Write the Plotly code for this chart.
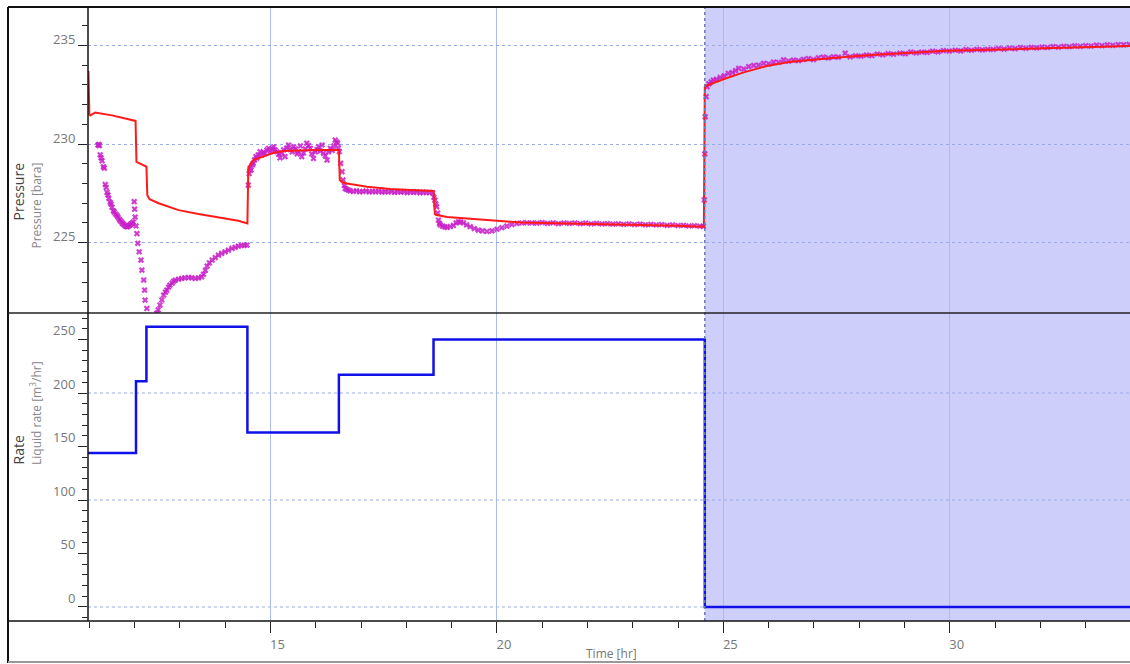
import plotly.graph_objects as go

# ---- measured bottom-hole pressure (bara) vs time (hr) ----
meas_t = [
    11.19, 11.21, 11.22, 11.24, 11.26, 11.28, 11.31, 11.33, 11.35, 11.37, 11.39, 11.41, 11.43,
    11.46, 11.48, 11.50, 11.53, 11.55, 11.58, 11.61, 11.63, 11.66, 11.68, 11.71, 11.73, 11.75,
    11.78, 11.80, 11.83, 11.85, 11.88, 11.90, 11.92, 11.94, 11.97, 11.99, 12.00, 12.01, 12.03,
    12.05, 12.07, 12.10, 12.14, 12.16, 12.20, 12.22, 12.23, 12.27, 12.30, 12.34, 12.40, 12.45,
    12.49, 12.52, 12.56, 12.60, 12.64, 12.68, 12.71, 12.75, 12.78, 12.83, 12.86, 12.90, 12.97,
    13.04, 13.11, 13.19, 13.26, 13.34, 13.41, 13.48, 13.52, 13.56, 13.60, 13.65, 13.71, 13.78,
    13.85, 13.92, 14.00, 14.07, 14.15, 14.22, 14.29, 14.36, 14.42, 14.48,
    14.51, 14.53, 14.55, 14.57, 14.60, 14.62, 14.65, 14.68, 14.70, 14.73, 14.77, 14.80, 14.84,
    14.88, 14.92, 14.96, 15.00, 15.04, 15.07, 15.10, 15.14, 15.18, 15.21, 15.25, 15.29, 15.32,
    15.36, 15.40, 15.44, 15.48, 15.51, 15.55, 15.59, 15.62, 15.66, 15.69, 15.73, 15.77, 15.80,
    15.84, 15.88, 15.91, 15.95, 15.99, 16.03, 16.06, 16.10, 16.14, 16.17, 16.21, 16.25, 16.28,
    16.32, 16.36, 16.40, 16.43, 16.46, 16.48, 16.50, 16.52, 16.55, 16.58, 16.60, 16.63, 16.65,
    16.68, 16.72,
    16.76, 16.83, 16.90, 16.97, 17.04, 17.11, 17.18, 17.25, 17.32, 17.39, 17.46, 17.53, 17.60,
    17.67, 17.74, 17.81, 17.88, 17.95, 18.02, 18.09, 18.16, 18.23, 18.30, 18.37, 18.44, 18.51,
    18.58, 18.61, 18.63, 18.65, 18.67, 18.69, 18.71, 18.73, 18.75, 18.80, 18.85, 18.90, 18.97,
    19.04, 19.10, 19.15, 19.20, 19.26, 19.33, 19.41, 19.50, 19.59, 19.68, 19.78, 19.89, 20.00,
    20.11, 20.22, 20.33, 20.44, 20.55, 20.66, 20.77, 20.88, 21.00, 21.12, 21.24, 21.36, 21.48,
    21.60, 21.72, 21.84, 21.96, 22.08, 22.20, 22.32, 22.44, 22.56, 22.68, 22.80, 22.92, 23.04,
    23.16, 23.28, 23.40, 23.52, 23.64, 23.76, 23.88, 24.00, 24.12, 24.24, 24.36, 24.48, 24.56,
    24.58, 24.59, 24.60, 24.62, 24.64, 24.68, 24.73, 24.78, 24.85, 24.93, 25.02, 25.11, 25.20,
    25.27, 25.34, 25.45, 25.56, 25.67, 25.78, 25.89, 26.00, 26.11, 26.22, 26.33, 26.44, 26.55,
    26.66, 26.77, 26.88, 26.99, 27.10, 27.21, 27.32, 27.43, 27.54, 27.69, 27.80, 27.92, 28.04,
    28.16, 28.28, 28.40, 28.52, 28.64, 28.76, 28.90, 29.02, 29.14, 29.26, 29.38, 29.50, 29.62,
    29.74, 29.86, 29.99, 30.12, 30.24, 30.36, 30.48, 30.60, 30.72, 30.84, 30.96, 31.08, 31.20,
    31.32, 31.44, 31.56, 31.68, 31.80, 31.92, 32.04, 32.16, 32.28, 32.40, 32.52, 32.64, 32.76,
    32.88, 33.00, 33.12, 33.24, 33.36, 33.48, 33.60, 33.72, 33.84, 33.96,
]
meas_p = [
    229.95, 229.98, 229.92, 229.45, 229.30, 229.15, 228.85, 228.78, 227.95, 227.80, 227.55, 227.42, 227.25,
    227.05, 226.95, 226.80, 226.62, 226.55, 226.45, 226.38, 226.30, 226.20, 226.12, 226.05, 225.98, 225.94,
    225.88, 225.84, 225.80, 225.83, 225.86, 225.90, 225.95, 225.98, 226.05, 227.08, 226.70, 226.30, 225.85,
    225.46, 224.97, 224.54, 224.12, 223.61, 223.11, 222.60, 222.09, 221.67, 221.20, 220.90, 220.75, 221.00,
    221.43, 221.60, 221.84, 222.10, 222.35, 222.50, 222.60, 222.75, 222.85, 222.95, 223.05, 223.10, 223.15,
    223.19, 223.22, 223.24, 223.22, 223.19, 223.22, 223.27, 223.40, 223.60, 223.82, 223.98, 224.12, 224.25,
    224.37, 224.46, 224.54, 224.62, 224.71, 224.77, 224.83, 224.86, 224.87, 224.88,
    227.92, 228.50, 228.77, 228.68, 228.94, 229.02, 229.20, 229.36, 229.28, 229.45, 229.61, 229.44, 229.58,
    229.53, 229.70, 229.78, 229.62, 229.75, 229.86, 229.70, 229.61, 229.48, 229.30, 229.55, 229.70, 229.36,
    229.80, 229.95, 229.72, 229.60, 229.86, 229.75, 229.50, 229.61, 229.90, 229.36, 229.55, 229.75, 230.04,
    229.92, 229.78, 229.50, 229.27, 229.60, 229.72, 229.86, 229.65, 229.95, 229.53, 229.40, 229.19, 229.60,
    229.78, 229.68, 229.90, 230.20, 230.10, 230.04, 229.80, 229.61, 229.02, 228.60, 228.18, 227.90, 227.75,
    227.70, 227.67,
    227.62, 227.60, 227.63, 227.58, 227.60, 227.62, 227.57, 227.60, 227.58, 227.61, 227.56, 227.59, 227.57,
    227.60, 227.55, 227.58, 227.56, 227.59, 227.54, 227.57, 227.55, 227.57, 227.53, 227.56, 227.54, 227.55,
    227.53, 227.30, 227.16, 226.95, 226.82, 226.50, 226.15, 225.98, 225.90, 225.84, 225.80, 225.78, 225.82,
    225.88, 226.00, 226.06, 226.05, 226.00, 225.90, 225.81, 225.72, 225.64, 225.60, 225.57, 225.60, 225.68,
    225.76, 225.84, 225.92, 225.98, 226.00, 226.01, 226.00, 225.99, 226.02, 225.98, 226.01, 225.97, 226.00,
    225.98, 226.00, 225.97, 225.99, 225.96, 225.98, 225.95, 225.97, 225.94, 225.96, 225.93, 225.95, 225.92,
    225.94, 225.91, 225.93, 225.90, 225.92, 225.88, 225.90, 225.87, 225.88, 225.85, 225.86, 225.84, 225.83,
    227.17, 229.50, 231.38, 232.40, 232.90, 233.05, 233.15, 233.24, 233.28, 233.37, 233.45, 233.58, 233.62,
    233.72, 233.83, 233.80, 233.92, 233.98, 234.00, 234.09, 234.06, 234.15, 234.14, 234.26, 234.20, 234.25,
    234.22, 234.29, 234.33, 234.28, 234.37, 234.40, 234.36, 234.42, 234.40, 234.60, 234.42, 234.47, 234.45,
    234.50, 234.48, 234.56, 234.52, 234.58, 234.55, 234.60, 234.58, 234.66, 234.62, 234.66, 234.64, 234.70,
    234.67, 234.73, 234.71, 234.75, 234.72, 234.78, 234.75, 234.80, 234.77, 234.80, 234.79, 234.84, 234.81,
    234.86, 234.83, 234.88, 234.85, 234.89, 234.87, 234.91, 234.89, 234.94, 234.91, 234.95, 234.93, 234.97,
    234.95, 234.98, 234.96, 235.01, 234.99, 235.02, 235.00, 235.04, 235.02, 235.05,
]

# ---- simulated pressure response (bara) ----
model_t = [
    10.98, 11.00, 11.02, 11.13, 11.50, 11.80, 12.02, 12.04, 12.26, 12.28, 12.33, 12.53, 12.97,
    13.41, 13.85, 14.29, 14.49, 14.51, 14.55, 14.62, 14.84, 15.07, 15.30, 15.60, 16.00, 16.51,
    16.53, 16.60, 16.69, 17.13, 17.64, 18.10, 18.60, 18.63, 18.67, 18.90, 19.04, 19.41, 20.00,
    20.51, 21.20, 21.99, 22.70, 23.46, 24.00, 24.57, 24.59, 24.62, 24.70, 25.00, 25.45, 25.96,
    26.48, 27.07, 27.80, 28.54, 29.28, 29.94, 30.90, 31.85, 32.90, 33.98,
]
model_p = [
    233.70, 231.50, 231.45, 231.60, 231.45, 231.30, 231.17, 229.10, 228.85, 227.40, 227.20, 227.00, 226.65,
    226.45, 226.28, 226.11, 225.98, 228.77, 228.95, 229.19, 229.36, 229.56, 229.64, 229.68, 229.70, 229.70,
    228.18, 228.05, 228.00, 227.84, 227.72, 227.67, 227.62, 226.45, 226.40, 226.30, 226.28, 226.20, 226.11,
    226.03, 226.00, 225.98, 225.94, 225.90, 225.86, 225.81, 232.90, 232.95, 233.02, 233.28, 233.63, 233.95,
    234.17, 234.29, 234.43, 234.55, 234.63, 234.72, 234.78, 234.85, 234.92, 234.97,
]

# ---- liquid rate history (m3/hr), step starts ----
rate_t = [10.97, 12.03, 12.26, 14.49, 16.51, 18.60, 24.59, 33.98]
rate_q = [144, 211, 262, 163, 217, 250, 0, 0]

# axis settings
x_range = [10.97, 33.98]
p_range = [221.44, 236.89]
q_range = [-13.1, 274.8]
q_grid = [0, 100, 200]
shut_in = rate_t[6]

FONT = "Open Sans"
GRID = "#9aabe8"
TICK = "#222222"
LABEL = "#777777"

fig = go.Figure()

fig.add_trace(go.Scatter(
    x=meas_t, y=meas_p, mode="markers", xaxis="x", yaxis="y",
    marker=dict(symbol="x", size=5.5, color="#c81ec8", opacity=0.85, line=dict(width=0)),
    showlegend=False, hoverinfo="skip",
))
fig.add_trace(go.Scatter(
    x=model_t, y=model_p, mode="lines", xaxis="x", yaxis="y",
    line=dict(color="#ff1a1a", width=2),
    showlegend=False, hoverinfo="skip",
))
fig.add_trace(go.Scatter(
    x=rate_t, y=rate_q, mode="lines", xaxis="x", yaxis="y2",
    line=dict(color="#1010e8", width=2.5, shape="hv"),
    showlegend=False, hoverinfo="skip",
))

# plot area in pixels: x 88..1130, y 8..621
W, H = 1042, 613
split = 308 / H


def px_x(X):
    return (X - 88) / W


def px_y(Y):
    return (621 - Y) / H


shapes = [
    # shut-in period shading
    dict(type="rect", xref="x", yref="paper", x0=shut_in, x1=x_range[1], y0=0, y1=1,
         fillcolor="#cecefb", line=dict(width=0), layer="below"),
]
for q in q_grid:
    shapes.append(dict(type="line", xref="paper", yref="y2", x0=0, x1=1, y0=q, y1=q,
                       line=dict(color=GRID, width=1, dash="dot"), layer="below"))
shapes += [
    # shut-in marker line
    dict(type="line", xref="x", yref="paper", x0=shut_in, x1=shut_in, y0=0, y1=1,
         line=dict(color="#6c78b0", width=1.5, dash="dot")),
    # frame
    dict(type="line", xref="paper", yref="paper", x0=px_x(8), x1=1, y0=px_y(7), y1=px_y(7),
         line=dict(color="#111", width=2)),
    dict(type="line", xref="paper", yref="paper", x0=px_x(8), x1=px_x(8), y0=px_y(7), y1=px_y(663),
         line=dict(color="#111", width=2)),
    dict(type="line", xref="paper", yref="paper", x0=px_x(8), x1=1, y0=split, y1=split,
         line=dict(color="#222", width=1.5)),
    dict(type="line", xref="paper", yref="paper", x0=px_x(8), x1=1, y0=0, y1=0,
         line=dict(color="#111", width=1.5)),
    dict(type="line", xref="paper", yref="paper", x0=0, x1=0, y0=0, y1=px_y(7),
         line=dict(color="#111", width=1.5)),
    dict(type="line", xref="paper", yref="paper", x0=px_x(8), x1=1, y0=px_y(662), y1=px_y(662),
         line=dict(color="#999", width=2)),
]

annotations = [
    dict(text="Pressure", xref="paper", yref="paper", x=0, xanchor="center", xshift=-70,
         y=(1 + split) / 2, textangle=-90, showarrow=False,
         font=dict(family=FONT, size=14, color="#444")),
    dict(text="Pressure [bara]", xref="paper", yref="paper", x=0, xanchor="center", xshift=-52,
         y=(1 + split) / 2, textangle=-90, showarrow=False,
         font=dict(family=FONT, size=12, color="#888")),
    dict(text="Rate", xref="paper", yref="paper", x=0, xanchor="center", xshift=-70,
         y=split / 2, textangle=-90, showarrow=False,
         font=dict(family=FONT, size=14, color="#444")),
    dict(text="Liquid rate [m<sup>3</sup>/hr]", xref="paper", yref="paper", x=0, xanchor="center",
         xshift=-52, y=split / 2, textangle=-90, showarrow=False,
         font=dict(family=FONT, size=12, color="#888")),
    dict(text="Time [hr]", xref="paper", yref="paper", x=px_x(611), y=px_y(653),
         yanchor="middle", showarrow=False, font=dict(family=FONT, size=12, color=LABEL)),
]

fig.update_layout(
    width=1130, height=664,
    margin=dict(l=88, r=0, t=8, b=43, pad=0),
    paper_bgcolor="white", plot_bgcolor="white",
    font=dict(family=FONT, size=12, color=LABEL),
    showlegend=False,
    xaxis=dict(
        domain=[0, 1], anchor="y2", range=x_range,
        tick0=0, dtick=5, ticks="outside", ticklen=11, tickwidth=1, tickcolor=TICK,
        minor=dict(dtick=1, ticks="outside", ticklen=6, tickwidth=1, tickcolor=TICK, showgrid=False),
        showgrid=True, gridcolor="#aabbef", gridwidth=1,
        showline=False, zeroline=False, ticklabelshift=7,
        tickfont=dict(family=FONT, size=13, color=LABEL),
    ),
    yaxis=dict(
        domain=[split, 1], anchor="x", range=p_range,
        tick0=0, dtick=5, ticks="outside", ticklen=9, tickwidth=1, tickcolor=TICK,
        minor=dict(dtick=1, ticks="outside", ticklen=5, tickwidth=1, tickcolor=TICK, showgrid=False),
        showgrid=True, gridcolor=GRID, gridwidth=1, griddash="dot",
        showline=False, zeroline=False, ticklabelshift=-6,
        tickfont=dict(family=FONT, size=13, color=LABEL),
    ),
    yaxis2=dict(
        domain=[0, split], anchor="x", range=q_range,
        tick0=0, dtick=50, ticks="outside", ticklen=9, tickwidth=1, tickcolor=TICK,
        minor=dict(dtick=10, ticks="outside", ticklen=5, tickwidth=1, tickcolor=TICK, showgrid=False),
        showgrid=False, showline=False, zeroline=False, ticklabelshift=-9,
        tickfont=dict(family=FONT, size=13, color=LABEL),
    ),
    shapes=shapes,
    annotations=annotations,
)

fig.write_html("out.html")
